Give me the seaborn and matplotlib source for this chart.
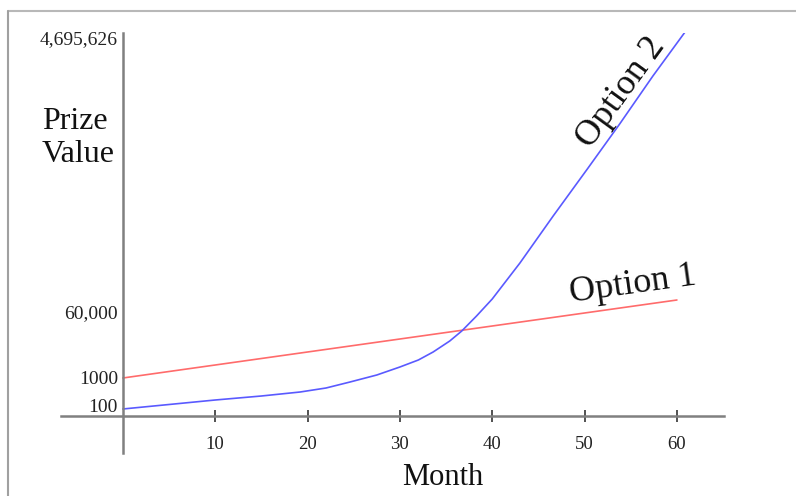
import matplotlib.pyplot as plt
import pandas as pd
import seaborn as sns
from matplotlib.lines import Line2D

# Schematic chart: the value axis is not to scale, so heights are read
# off the picture in the chart's own (drawn) axis units.
months_opt1 = [0, 60]
height_opt1 = [38, 116]

months_opt2 = [0, 10, 15, 19.2, 22, 24.6, 27.5, 30, 32, 33.6, 35.4, 36.7, 38.3, 40,
               41.5, 43, 46.6, 50.3, 53.8, 57.4, 61.2]
height_opt2 = [7, 16, 20, 24, 28, 34, 41, 49, 56, 64, 75, 85, 100, 117,
               135, 153, 200, 247, 292, 340, 388]

value_tick_pos = [11, 39, 104, 378]
value_tick_labels = ["100", "1000", "60,000", "4,695,626"]
month_ticks = [10, 20, 30, 40, 50, 60]

sns.set_theme(style="white")
plt.rcParams["font.family"] = ["Liberation Serif", "DejaVu Serif"]

fig = plt.figure(figsize=(7.96, 4.96), dpi=100)
W, H = 796, 496
ax = fig.add_axes([61 / W, (H - 453) / H, (724 - 61) / W, (453 - 33) / H])
ax.set_facecolor("white")

df1 = pd.DataFrame({"month": months_opt1, "height": height_opt1})
df2 = pd.DataFrame({"month": months_opt2, "height": height_opt2})
sns.lineplot(data=df1, x="month", y="height", color="#ff6b6b", linewidth=1.2, ax=ax)
sns.lineplot(data=df2, x="month", y="height", color="#5a5aff", linewidth=1.2, ax=ax)

ax.set_xlim(-6.7, 65.1)
ax.set_ylim(-37, 383)

for side in ["top", "right"]:
    ax.spines[side].set_visible(False)
for side in ["left", "bottom"]:
    ax.spines[side].set_position(("data", 0))
    ax.spines[side].set_color("#808080")
    ax.spines[side].set_linewidth(1.8)

ax.set_xticks(month_ticks)
ax.set_xticklabels([str(m) for m in month_ticks])
ax.tick_params(axis="x", direction="inout", length=8.6, width=1.2, color="#333333",
               pad=10, labelsize=13.5, labelcolor="#222222", bottom=True)
ax.set_yticks(value_tick_pos)
ax.set_yticklabels(value_tick_labels)
ax.tick_params(axis="y", length=0, pad=3.5, labelsize=14, labelcolor="#222222", left=True)
ax.set_xlabel("")
ax.set_ylabel("")

# curve labels
ax.text(55.2, 131, "Option 1", fontsize=26, rotation=8, ha="center", va="center", color="#111111")
ax.text(54.0, 323, "Option 2", fontsize=26, rotation=54, ha="center", va="center", color="#111111")

# axis titles
fig.text(42 / W, 1 - 138 / H, "Prize\nValue", fontsize=23, ha="left", va="center",
         linespacing=1.22, color="#111111")
fig.text(443 / W, 1 - 485 / H, "Month", fontsize=22, ha="center", va="baseline", color="#111111")

# thin gray frame along the top and left edge
fig.add_artist(Line2D([8 / W, 1], [1 - 11 / H, 1 - 11 / H], transform=fig.transFigure,
                      color="#b8b8b8", linewidth=1.5))
fig.add_artist(Line2D([8 / W, 8 / W], [0, 1 - 11 / H], transform=fig.transFigure,
                      color="#a0a0a0", linewidth=1.5))

fig.savefig("out.png", dpi=100, facecolor="white")
